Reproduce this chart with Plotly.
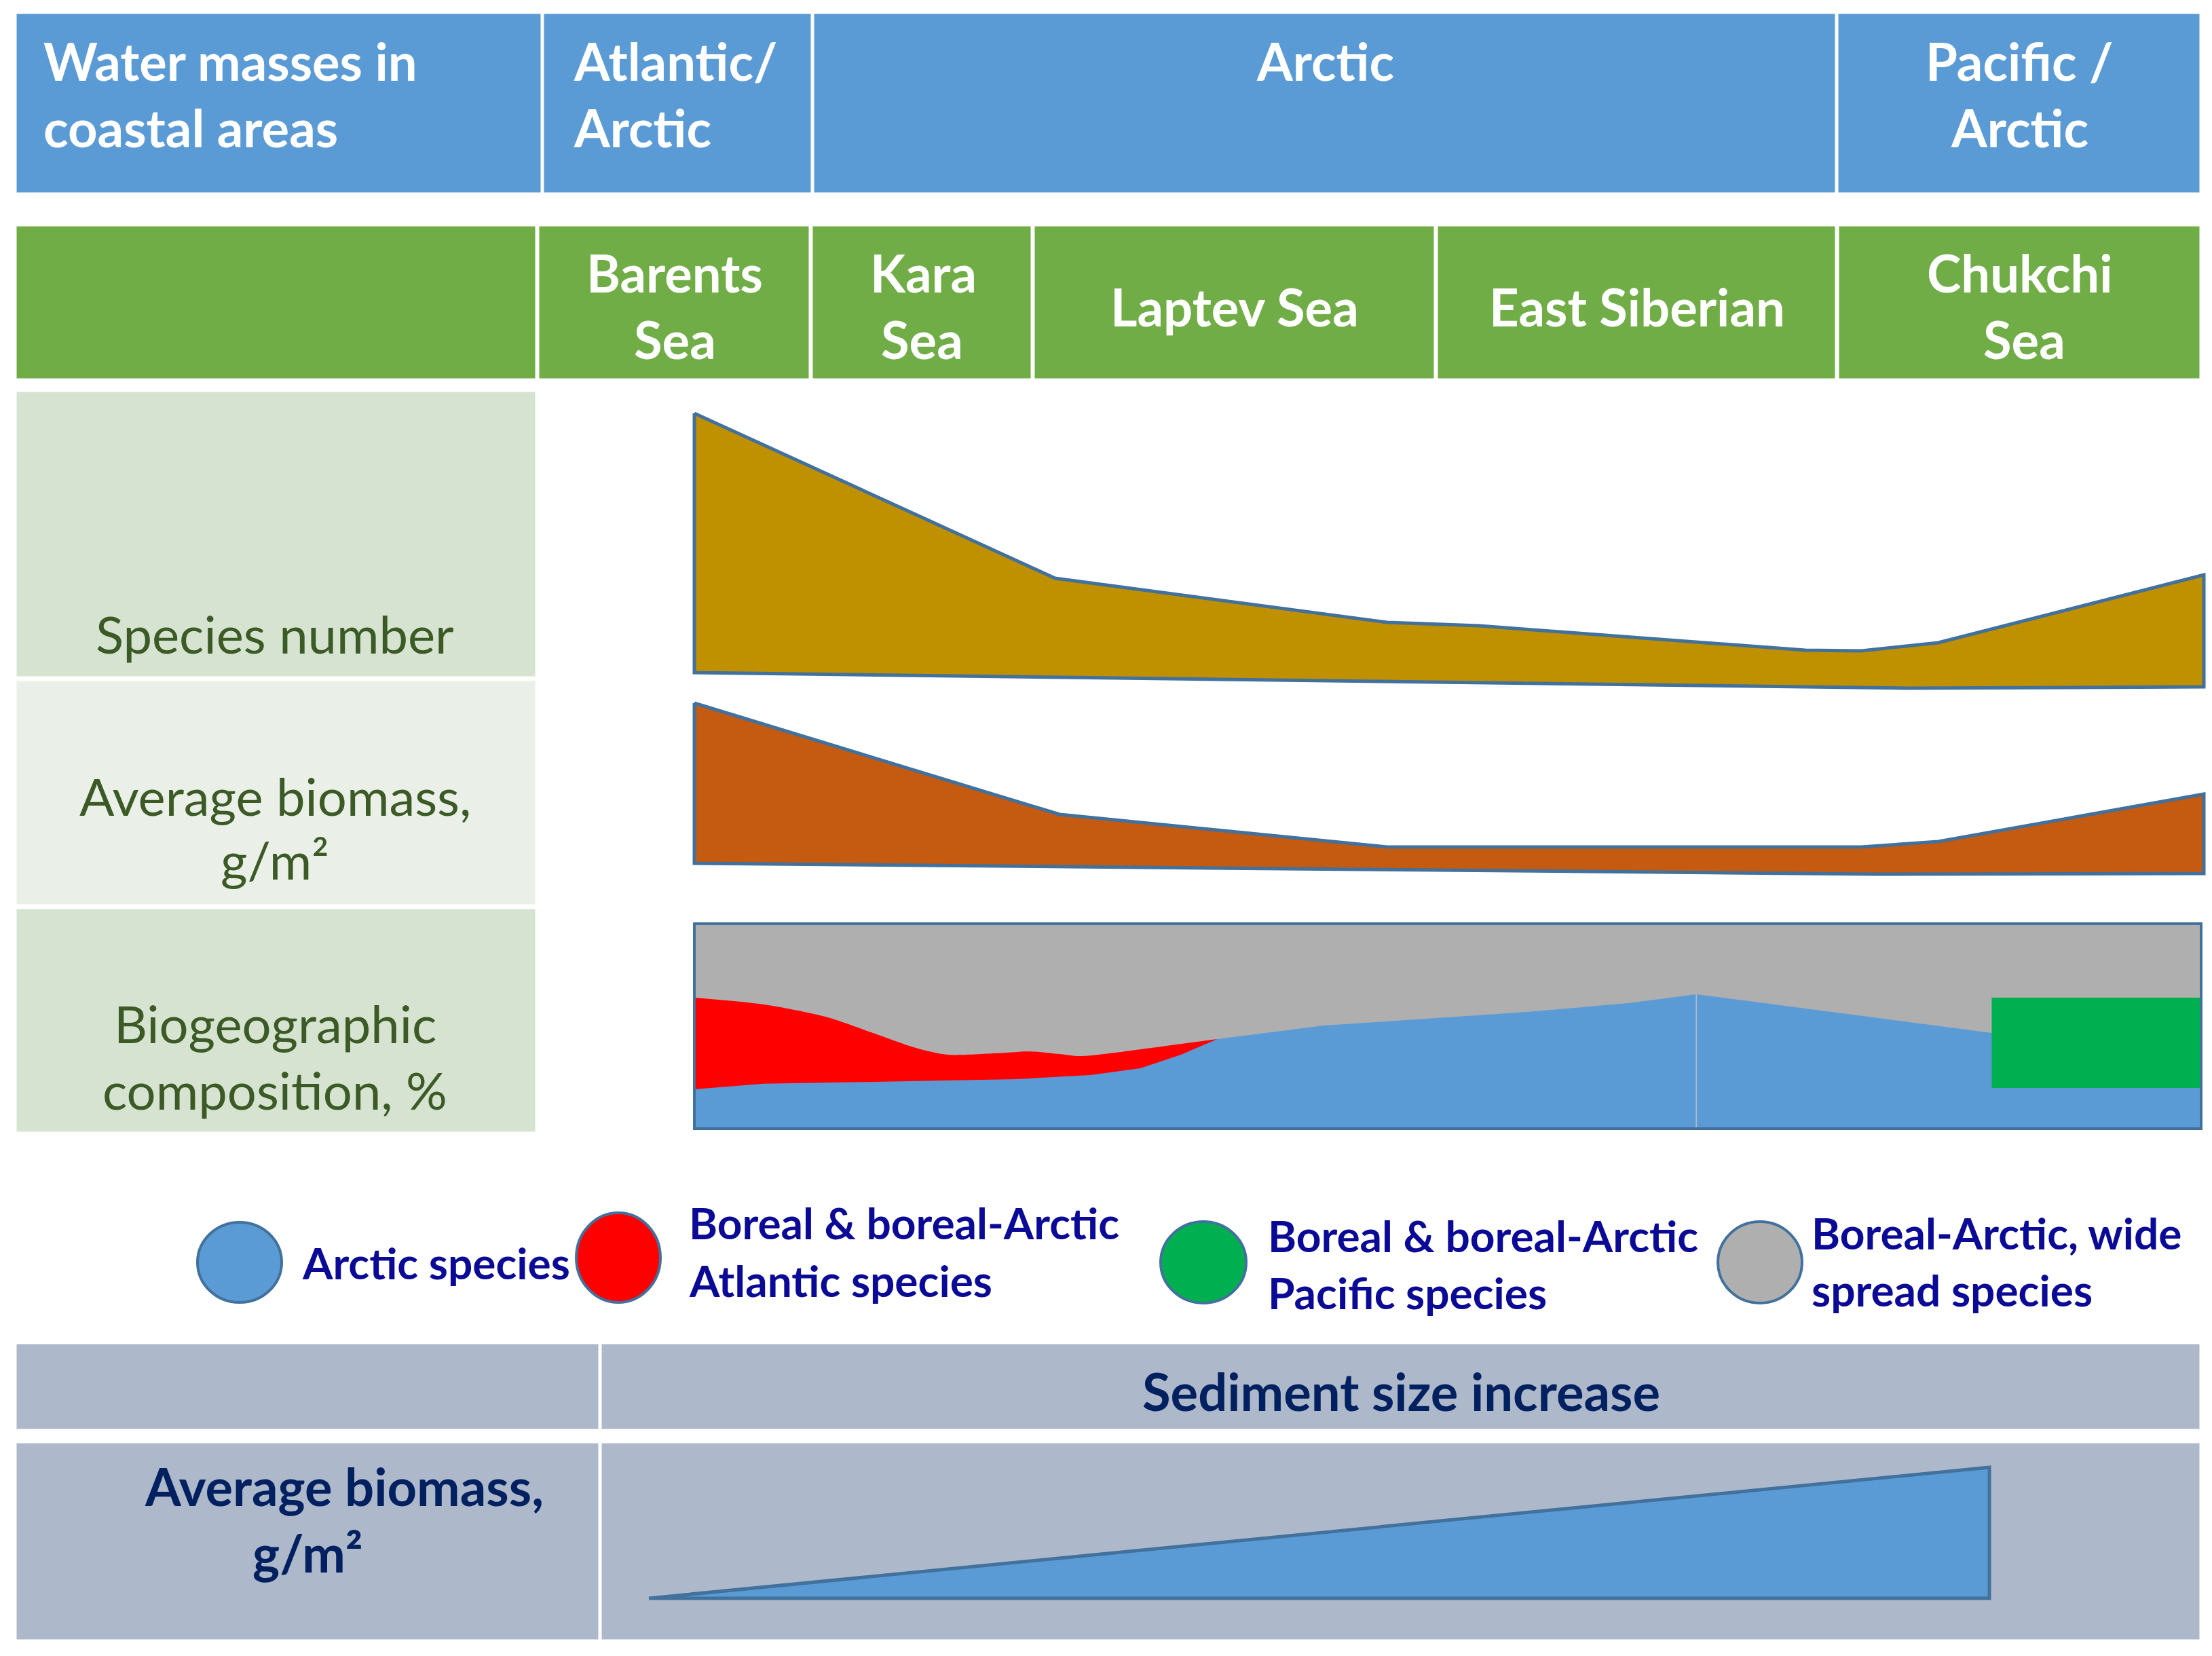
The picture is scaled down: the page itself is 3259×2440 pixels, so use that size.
import plotly.graph_objects as go

W, H = 3259, 2440

# position along the coast (0 = west Barents, 100 = east Chukchi)
species_x = [0, 23.9, 45.9, 52.0, 73.6, 77.3, 82.4, 100]
species_top = [411, 168, 103, 98, 62, 61, 73, 173]
species_base_x = [0, 80.3, 100]
species_base = [29, 6, 8]

biomass_x = [0, 24.2, 45.9, 77.3, 82.4, 100]
biomass_top = [264, 100, 52, 52, 60, 130]
biomass_base_x = [0, 78.3, 100]
biomass_base = [28, 12, 13]

# biogeographic composition, cumulative %
arctic_x = [0, 4.6, 11.4, 21.5, 26.3, 29.6, 32.3, 34.7, 41.8, 55.4, 62.1, 66.5, 86.1, 100]
arctic_pct = [19.2, 21.9, 22.8, 24.2, 26.2, 29.5, 36.1, 43.7, 50.3, 57.0, 61.3, 65.6, 46.7, 40.0]
atlantic_x = [0, 4.6, 8.7, 12.1, 14.7, 16.8, 20.1, 22.2, 24.2, 25.6, 29.6, 34.7]
atlantic_pct = [63.9, 60.6, 54.6, 46.0, 39.4, 36.1, 36.8, 37.7, 36.4, 35.4, 38.7, 43.7]
pacific_x = [86.1, 100]
pacific_lo = [19.9, 19.9]
pacific_hi = [63.9, 63.9]

sediment = [0, 1]
sed_biomass = [0, 1]

BLUE = "#5b9bd5"
GREEN = "#70ad47"
EDGE = "#41719c"
LBL = "#3b5a26"
NAVY = "#002060"
LEG = "#0a0a96"
FONT = "Lato"


def xdom(p0, p1, v0, v1, pad=6):
    k = (v1 - v0) / (p1 - p0)
    return dict(domain=[(p0 - pad) / W, (p1 + pad) / W], range=[v0 - pad * k, v1 + pad * k])


def ydom(pbot, ptop, v0, v1, pad=6):
    k = (v1 - v0) / (pbot - ptop)
    return dict(domain=[1 - (pbot + pad) / H, 1 - (ptop - pad) / H], range=[v0 - pad * k, v1 + pad * k])


fig = go.Figure()
fig.add_trace(go.Scatter(x=[], y=[], xaxis="x", yaxis="y", showlegend=False))

# species number
sx = species_x + species_base_x[::-1] + species_x[:1]
sy = species_top + species_base[::-1] + species_top[:1]
fig.add_trace(go.Scatter(x=sx, y=sy, fill="toself", fillcolor="#bf9000", mode="lines",
                         line=dict(color=EDGE, width=5), xaxis="x2", yaxis="y2", showlegend=False))

# average biomass
bx = biomass_x + biomass_base_x[::-1] + biomass_x[:1]
by = biomass_top + biomass_base[::-1] + biomass_top[:1]
fig.add_trace(go.Scatter(x=bx, y=by, fill="toself", fillcolor="#c55a11", mode="lines",
                         line=dict(color=EDGE, width=5), xaxis="x3", yaxis="y3", showlegend=False))

# biogeographic composition
fig.add_trace(go.Scatter(x=[0, 100], y=[100, 100], fill="tozeroy", fillcolor="#afafaf", mode="lines",
                         line=dict(width=0), xaxis="x4", yaxis="y4", showlegend=False))
fig.add_trace(go.Scatter(x=atlantic_x, y=atlantic_pct, fill="tozeroy", fillcolor="#ff0000", mode="lines",
                         line=dict(width=0, shape="spline", smoothing=0.8), xaxis="x4", yaxis="y4", showlegend=False))
fig.add_trace(go.Scatter(x=arctic_x, y=arctic_pct, fill="tozeroy", fillcolor=BLUE, mode="lines",
                         line=dict(width=0), xaxis="x4", yaxis="y4", showlegend=False))
fig.add_trace(go.Scatter(x=[arctic_x[11], arctic_x[11]], y=[0, arctic_pct[11]], mode="lines",
                         line=dict(color="#a9b8c8", width=2), xaxis="x4", yaxis="y4", showlegend=False))
px_ = pacific_x + pacific_x[::-1]
py_ = pacific_hi + pacific_lo[::-1]
fig.add_trace(go.Scatter(x=px_, y=py_, fill="toself", fillcolor="#00b050", mode="lines",
                         line=dict(width=0), xaxis="x4", yaxis="y4", showlegend=False))

# sediment triangle
fig.add_trace(go.Scatter(x=[sediment[0], sediment[1], sediment[1], sediment[0]],
                         y=[sed_biomass[0], sed_biomass[1], sed_biomass[0], sed_biomass[0]],
                         fill="toself", fillcolor=BLUE, mode="lines",
                         line=dict(color=EDGE, width=5), xaxis="x5", yaxis="y5", showlegend=False))

shapes = []


def cell(x0, x1, y0, y1, color):
    shapes.append(dict(type="rect", xref="x", yref="y", x0=x0, x1=x1, y0=y0, y1=y1,
                       fillcolor=color, line=dict(color="white", width=3), layer="below"))


for a, b in [(23, 798), (800, 1196), (1198, 2705), (2707, 3242)]:
    cell(a, b, 19, 285, BLUE)
for a, b in [(23, 790), (793, 1193), (1196, 1520), (1523, 2114), (2117, 2705), (2708, 3242)]:
    cell(a, b, 332, 559, GREEN)
cell(23, 790, 576, 998, "#d6e3d0")
cell(23, 790, 1002, 1334, "#eaf0e8")
cell(23, 790, 1338, 1669, "#d6e3d0")
for y0, y1 in [(1979, 2107), (2125, 2417)]:
    cell(23, 883, y0, y1, "#adb9ca")
    cell(885, 3242, y0, y1, "#adb9ca")

shapes.append(dict(type="rect", xref="x4", yref="y4", x0=0, x1=100, y0=0, y1=100,
                   line=dict(color=EDGE, width=4), layer="above"))

for cx, cy, rx, ry, col in [(353, 1860, 62, 59, "#5b9bd5"), (911, 1853, 62, 66, "#ff0000"),
                            (1773, 1860, 63, 60, "#00b050"), (2593, 1860, 62, 60, "#afafaf")]:
    shapes.append(dict(type="circle", xref="x", yref="y", x0=cx - rx, x1=cx + rx, y0=cy - ry, y1=cy + ry,
                       fillcolor=col, line=dict(color=EDGE, width=4)))

ann = []


def txt(s, x, y, size, color, bold=False, anchor="center"):
    ann.append(dict(text="<b>%s</b>" % s if bold else s, x=x, y=y, xref="x", yref="y",
                    xanchor=anchor, yanchor="middle", showarrow=False,
                    font=dict(family=FONT, size=size, color=color)))


hw = 76
txt("Water masses in", 62, 89, hw, "white", True, "left")
txt("coastal areas", 62, 187, hw, "white", True, "left")
txt("Atlantic/", 843, 89, hw, "white", True, "left")
txt("Arctic", 843, 187, hw, "white", True, "left")
txt("Arctic", 1952, 89, hw, "white", True)
txt("Pacific /", 2975, 89, hw, "white", True)
txt("Arctic", 2975, 187, hw, "white", True)

txt("Barents", 994, 401, hw, "white", True)
txt("Sea", 994, 499, hw, "white", True)
txt("Kara", 1360, 401, hw, "white", True)
txt("Sea", 1358, 499, hw, "white", True)
txt("Laptev Sea", 1819, 451, hw, "white", True)
txt("East Siberian", 2412, 451, hw, "white", True)
txt("Chukchi", 2975, 401, hw, "white", True)
txt("Sea", 2982, 499, hw, "white", True)

lw = 76
txt("Species number", 405, 933, lw, LBL)
txt("Average biomass,", 405, 1172, lw, LBL)
txt("g/m²", 405, 1266, lw, LBL)
txt("Biogeographic", 405, 1507, lw, LBL)
txt("composition, %", 405, 1605, lw, LBL)

gw = 64
txt("Arctic species", 443, 1860, gw, LEG, True, "left")
txt("Boreal & boreal-Arctic", 1013, 1801, gw, LEG, True, "left")
txt("Atlantic species", 1013, 1886, gw, LEG, True, "left")
txt("Boreal & boreal-Arctic", 1866, 1820, gw, LEG, True, "left")
txt("Pacific species", 1866, 1904, gw, LEG, True, "left")
txt("Boreal-Arctic, wide", 2667, 1816, gw, LEG, True, "left")
txt("spread species", 2667, 1900, gw, LEG, True, "left")

txt("Sediment size increase", 2064, 2049, 76, NAVY, True)
txt("Average biomass,", 507, 2189, 76, NAVY, True)
txt("g/m²", 453, 2287, 76, NAVY, True)

hidden = dict(visible=False, fixedrange=True, showgrid=False, zeroline=False)
fig.update_layout(
    width=W, height=H, margin=dict(l=0, r=0, t=0, b=0),
    paper_bgcolor="white", plot_bgcolor="rgba(0,0,0,0)",
    xaxis=dict(domain=[0, 1], range=[0, W], **hidden),
    yaxis=dict(domain=[0, 1], range=[H, 0], **hidden),
    xaxis2=dict(anchor="y2", **xdom(1023, 3247, 0, 100), **hidden),
    yaxis2=dict(anchor="x2", **ydom(1020, 600, 0, 420), **hidden),
    xaxis3=dict(anchor="y3", **xdom(1023, 3247, 0, 100), **hidden),
    yaxis3=dict(anchor="x3", **ydom(1300, 1020, 0, 280), **hidden),
    xaxis4=dict(anchor="y4", **xdom(1023, 3243, 0, 100), **hidden),
    yaxis4=dict(anchor="x4", **ydom(1663, 1361, 0, 100), **hidden),
    xaxis5=dict(anchor="y5", **xdom(956, 2931, 0, 1), **hidden),
    yaxis5=dict(anchor="x5", **ydom(2355, 2162, 0, 1), **hidden),
    shapes=shapes, annotations=ann, showlegend=False,
)

fig.write_html("out.html", config={"displayModeBar": False},
               post_script="document.body.style.margin='0';")
